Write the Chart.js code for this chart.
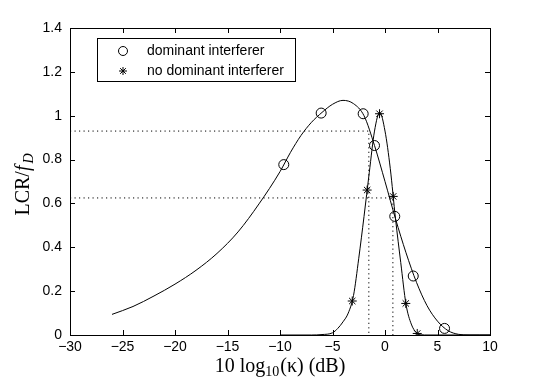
<!DOCTYPE html>
<html>
<head>
<meta charset="utf-8">
<script src="https://cdn.jsdelivr.net/npm/chart.js@4.4.1/dist/chart.umd.min.js"></script>
<style>
  html, body { margin: 0; padding: 0; background: #fff; }
  #wrap { width: 540px; height: 379px; }
</style>
</head>
<body>
<div id="wrap"><canvas id="grafico" width="540" height="379"></canvas></div>
<script>
// curve with dominant interferer
const domX = [-26, -24, -22, -20, -18, -16, -14, -12, -10, -9, -8, -7, -6, -5, -4, -3, -2, -1, 0, 1, 2, 3, 4, 5, 6, 7, 8, 9, 10];
const domY = [0.094, 0.13, 0.178, 0.232, 0.295, 0.372, 0.47, 0.598, 0.745, 0.833, 0.91, 0.97, 1.015, 1.052, 1.07, 1.055, 1.0, 0.864, 0.7, 0.53, 0.375, 0.24, 0.134, 0.063, 0.02, 0.003, 0, 0, 0];
const domMarkX = [-9.64, -6.08, -2.08, -1.0, 0.93, 2.69, 5.67];
const domMarkY = [0.777, 1.012, 1.009, 0.864, 0.541, 0.269, 0.03];

// curve without dominant interferer
const noDomX = [-10, -7, -6, -5, -4.5, -4, -3.5, -3, -2.5, -2, -1.5, -1, -0.5, 0, 0.5, 1, 1.5, 2, 2.5, 3, 3.5, 4, 10];
const noDomY = [0, 0, 0.002, 0.01, 0.03, 0.06, 0.1, 0.18, 0.35, 0.54, 0.74, 0.93, 1.015, 0.93, 0.76, 0.53, 0.33, 0.14, 0.05, 0.01, 0.001, 0, 0];
const noDomMarkX = [-3.12, -1.70, -0.52, 0.78, 1.98, 3.07];
const noDomMarkY = [0.155, 0.661, 1.009, 0.632, 0.144, 0.007];

// dotted guide lines
const guide1X = [-30, -1.54, -1.54];
const guide1Y = [0.93, 0.93, 0];
const guide2X = [-30, 0.75, 0.75];
const guide2Y = [0.625, 0.625, 0];

const xTicks = [-30, -25, -20, -15, -10, -5, 0, 5, 10];
const yTicks = [0, 0.2, 0.4, 0.6, 0.8, 1, 1.2, 1.4];
const legendLabels = ["dominant interferer", "no dominant interferer"];

const pts = (xs, ys) => xs.map((x, i) => ({ x: x, y: ys[i] }));
const tickFont = { family: "'Liberation Sans', Arial, sans-serif", size: 14 };

// frame + inward ticks (MATLAB style)
const marco = {
  id: "marco",
  afterDraw(chart) {
    const ctx = chart.ctx;
    const { left, right, top, bottom } = chart.chartArea;
    const sx = chart.scales.x, sy = chart.scales.y;
    ctx.save();
    ctx.strokeStyle = "#000";
    ctx.lineWidth = 1;
    ctx.strokeRect(Math.round(left) + 0.5, Math.round(top) + 0.5, Math.round(right - left), Math.round(bottom - top));
    ctx.beginPath();
    xTicks.forEach((v) => {
      const p = Math.round(sx.getPixelForValue(v)) + 0.5;
      ctx.moveTo(p, bottom); ctx.lineTo(p, bottom - 5);
      ctx.moveTo(p, top); ctx.lineTo(p, top + 5);
    });
    yTicks.forEach((v) => {
      const p = Math.round(sy.getPixelForValue(v)) + 0.5;
      ctx.moveTo(left, p); ctx.lineTo(left + 5, p);
      ctx.moveTo(right, p); ctx.lineTo(right - 5, p);
    });
    ctx.stroke();

    // axis titles
    ctx.fillStyle = "#000";
    ctx.textBaseline = "alphabetic";
    const serif = "'Liberation Serif', 'DejaVu Serif', serif";
    // x title: 10 log10(κ) (dB)
    const big = "20px " + serif, small = "14px " + serif;
    ctx.font = big;
    const a = "10 log", c = "(κ) (dB)";
    const wa = ctx.measureText(a).width, wc = ctx.measureText(c).width;
    ctx.font = small;
    const wb = ctx.measureText("10").width;
    const total = wa + wb + 1 + wc;
    let x0 = (left + right) / 2 - total / 2;
    const yb = 372;
    ctx.font = big; ctx.textAlign = "left";
    ctx.fillText(a, x0, yb);
    ctx.font = small;
    ctx.fillText("10", x0 + wa, yb + 4);
    ctx.font = big;
    ctx.fillText(c, x0 + wa + wb + 1, yb);

    // y title: LCR/f_D
    ctx.translate(29, (top + bottom) / 2 + 3);
    ctx.rotate(-Math.PI / 2);
    const t1 = "LCR/";
    ctx.font = "italic 20px " + serif;
    const w2 = ctx.measureText("f").width;
    ctx.font = "italic 14px " + serif;
    const w3 = ctx.measureText("D").width;
    ctx.font = big;
    const w1 = ctx.measureText(t1).width;
    let s = -(w1 + w2 + w3 + 2) / 2;
    ctx.fillText(t1, s, 0);
    ctx.font = "italic 20px " + serif;
    ctx.fillText("f", s + w1, 0);
    ctx.font = "italic 14px " + serif;
    ctx.fillText("D", s + w1 + w2 + 2, 4);
    ctx.restore();

    // legend box
    ctx.save();
    const bx = 97, by = 38, bw = 198, bh = 43;
    ctx.fillStyle = "#fff";
    ctx.fillRect(bx, by, bw, bh);
    ctx.strokeStyle = "#000";
    ctx.lineWidth = 1;
    ctx.strokeRect(bx + 0.5, by + 0.5, bw, bh);
    const rows = [by + 13, by + 33];
    ctx.fillStyle = "#fff";
    Chart.helpers.drawPoint(ctx, { pointStyle: "circle", radius: 4.5, borderWidth: 1 }, 123, rows[0]);
    Chart.helpers.drawPoint(ctx, { pointStyle: "star", radius: 4, borderWidth: 1 }, 123, rows[1]);
    ctx.fillStyle = "#000";
    ctx.font = "14px 'Liberation Sans', Arial, sans-serif";
    ctx.textBaseline = "middle";
    ctx.textAlign = "left";
    ctx.fillText(legendLabels[0], 147, rows[0]);
    ctx.fillText(legendLabels[1], 147, rows[1]);
    ctx.restore();
  },
};

const linea = (data, dash) => ({
  type: "line",
  data: data,
  borderColor: "#000",
  borderWidth: 1,
  borderDash: dash || [],
  pointRadius: 0,
  fill: false,
  cubicInterpolationMode: dash ? "default" : "monotone",
  tension: 0,
});

const marcas = (data, style, r) => ({
  type: "scatter",
  data: data,
  showLine: false,
  pointStyle: style,
  pointRadius: r,
  pointBorderColor: "#000",
  pointBackgroundColor: "rgba(0,0,0,0)",
  pointBorderWidth: 1,
});

new Chart(document.getElementById("grafico").getContext("2d"), {
  type: "line",
  data: {
    datasets: [
      linea(pts(guide1X, guide1Y), [1.2, 3.3]),
      linea(pts(guide2X, guide2Y), [1.2, 3.3]),
      linea(pts(domX, domY)),
      linea(pts(noDomX, noDomY)),
      marcas(pts(domMarkX, domMarkY), "circle", 5),
      marcas(pts(noDomMarkX, noDomMarkY), "star", 4.5),
    ],
  },
  options: {
    responsive: false,
    animation: false,
    layout: { padding: { top: 28, right: 50, left: 0, bottom: 0 } },
    plugins: { legend: { display: false }, tooltip: { enabled: false } },
    scales: {
      x: {
        type: "linear",
        min: -30,
        max: 10,
        afterBuildTicks: (axis) => { axis.ticks = xTicks.map((v) => ({ value: v })); },
        afterFit: (axis) => { axis.height = 44; },
        grid: { display: false, drawTicks: false },
        border: { display: false },
        ticks: {
          color: "#000",
          font: tickFont,
          padding: 4,
          maxRotation: 0,
          callback: (v) => String(v).replace("-", "\u2212"),
        },
      },
      y: {
        type: "linear",
        min: 0,
        max: 1.4,
        afterBuildTicks: (axis) => { axis.ticks = yTicks.map((v) => ({ value: v })); },
        afterFit: (axis) => { axis.width = 70; },
        grid: { display: false, drawTicks: false },
        border: { display: false },
        ticks: {
          color: "#000",
          font: tickFont,
          padding: 8,
          callback: (v) => String(Math.round(v * 10) / 10),
        },
      },
    },
  },
  plugins: [marco],
});
</script>
</body>
</html>
